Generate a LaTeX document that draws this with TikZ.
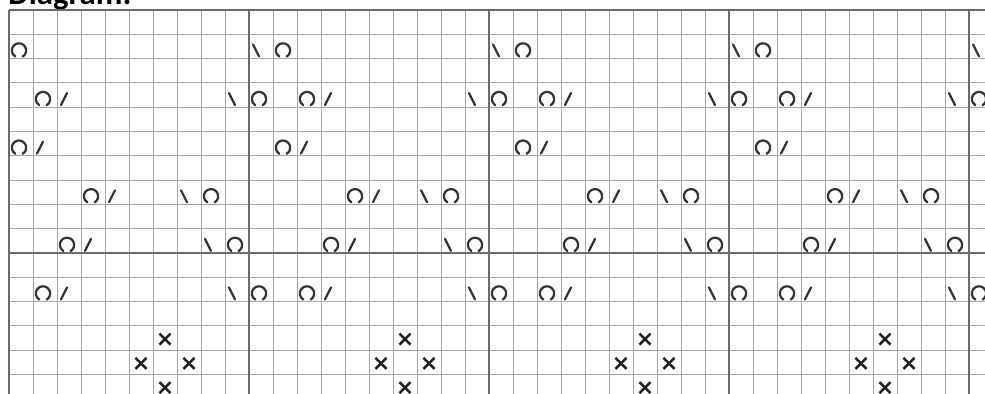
\documentclass[tikz,border=0pt]{standalone}
\usepackage{fontspec}
\setsansfont{Carlito}
\usetikzlibrary{calc}
\definecolor{GridThin}{HTML}{A8A8A8}
\definecolor{GridThick}{HTML}{6B6B6B}
\definecolor{InkDark}{HTML}{333333}
\definecolor{InkBlack}{HTML}{1E1E1E}

% place a chart symbol in cell (column, row)
\newcommand{\chartst}[3]{\pic at ({21+24*(#2)},{10+24.3*((#3)+0.5)}) {#1};}

\begin{document}
\begin{tikzpicture}[x=0.3mm, y=-0.3mm,
    thinline/.style={GridThin, line width=0.8pt},
    thickline/.style={GridThick, line width=1.5pt},
    symb/.style={InkDark, line width=1.9pt, line cap=round},
    cross/.style={InkBlack, line width=2.1pt},
    kyo/.pic={\draw[symb] (-0.6mm,-1.2mm) ++(-60:2.15mm) arc[start angle=-60, end angle=240, radius=2.15mm];},
    ktog/.pic={\draw[symb] (-2.4mm,-3.0mm) -- (-0.6mm,0.6mm);},
    kssk/.pic={\draw[symb] (-2.4mm,0.6mm) -- (-0.6mm,-3.0mm);},
    kx/.pic={\draw[cross] (-1.65mm,-1.95mm) -- (1.65mm,1.35mm) (-1.65mm,1.35mm) -- (1.65mm,-1.95mm);}
  ]
  \useasboundingbox (0,0) rectangle (985,394);
  \clip (0,0) rectangle (985,394);
  \fill[white] (0,0) rectangle (985,394);

  \node[anchor=base west, inner sep=0pt, font={\sffamily\bfseries\fontsize{28}{32}\selectfont}] (title) at (8,5) {Diagram:};

  % grid
  \foreach \k in {0,...,40}
    \draw[thinline] ({9+24*\k},10) -- ({9+24*\k},394);
  \foreach \r in {0,...,16}
    \draw[thinline] (9,{10+24.3*\r}) -- (985,{10+24.3*\r});
  \foreach \k in {0,10,...,40}
    \draw[thickline] ({9+24*\k},10) -- ({9+24*\k},394);
  \foreach \r in {0,10}
    \draw[thickline] (9,{10+24.3*\r}) -- (985,{10+24.3*\r});

  % first repeat
  \chartst{kyo}{0}{1}
  \chartst{kyo}{1}{3} \chartst{ktog}{2}{3}
  \chartst{kyo}{0}{5} \chartst{ktog}{1}{5}
  \chartst{kyo}{3}{7} \chartst{ktog}{4}{7} \chartst{kssk}{7}{7} \chartst{kyo}{8}{7}
  \chartst{kyo}{2}{9} \chartst{ktog}{3}{9} \chartst{kssk}{8}{9} \chartst{kyo}{9}{9}
  \chartst{kyo}{1}{11} \chartst{ktog}{2}{11}
  \chartst{kx}{6}{13} \chartst{kx}{5}{14} \chartst{kx}{7}{14} \chartst{kx}{6}{15}

  % further repeats
  \foreach \b in {10,20,30,40} {
    \chartst{kssk}{\b}{1} \chartst{kyo}{\b+1}{1}
    \chartst{kssk}{\b-1}{3} \chartst{kyo}{\b}{3} \chartst{kyo}{\b+2}{3} \chartst{ktog}{\b+3}{3}
    \chartst{kyo}{\b+1}{5} \chartst{ktog}{\b+2}{5}
    \chartst{kyo}{\b+4}{7} \chartst{ktog}{\b+5}{7} \chartst{kssk}{\b+7}{7} \chartst{kyo}{\b+8}{7}
    \chartst{kyo}{\b+3}{9} \chartst{ktog}{\b+4}{9} \chartst{kssk}{\b+8}{9} \chartst{kyo}{\b+9}{9}
    \chartst{kssk}{\b-1}{11} \chartst{kyo}{\b}{11} \chartst{kyo}{\b+2}{11} \chartst{ktog}{\b+3}{11}
    \chartst{kx}{\b+6}{13} \chartst{kx}{\b+5}{14} \chartst{kx}{\b+7}{14} \chartst{kx}{\b+6}{15}
  }
\end{tikzpicture}
\end{document}
